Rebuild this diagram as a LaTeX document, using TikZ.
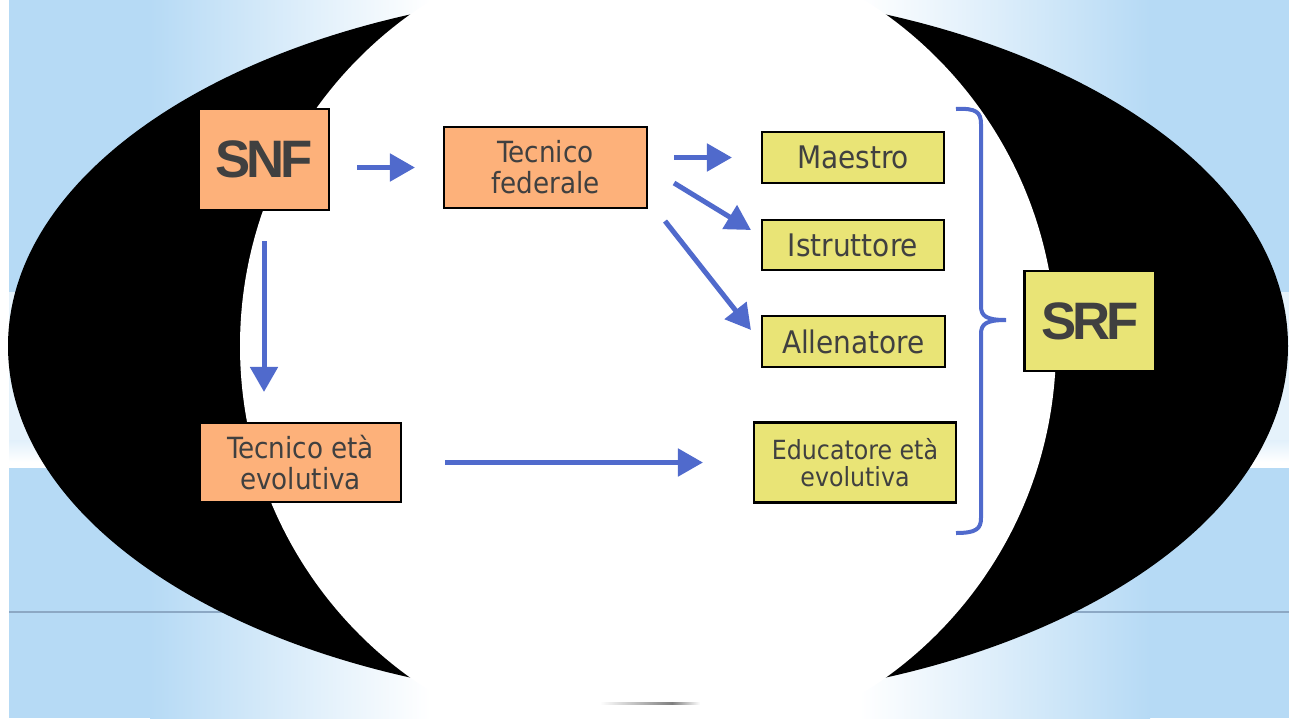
\documentclass[tikz,border=0pt]{standalone}
\usepackage{fontspec}
\setmainfont{DejaVu Sans}
\newfontfamily\labfont{DejaVu Sans Condensed}
\newfontfamily\bigfont{Liberation Sans}
\usetikzlibrary{arrows.meta,calc}
\definecolor{bgblue}{RGB}{182,218,245}
\definecolor{boxorange}{RGB}{253,177,122}
\definecolor{boxyellow}{RGB}{233,228,118}
\definecolor{flowblue}{RGB}{80,106,204}
\definecolor{txtgray}{RGB}{64,64,64}
\definecolor{linegray}{RGB}{140,168,196}
\tikzset{
  box/.style={draw=black, line width=1.2pt, inner sep=0pt, align=center, text=txtgray},
  orangebox/.style={box, fill=boxorange},
  yellowbox/.style={box, fill=boxyellow},
  flow/.style={draw=flowblue, line width=0.1cm, -{Triangle[length=0.5cm,width=0.54cm]}},
  bracestyle/.style={draw=flowblue, line width=0.08cm},
  labA/.style={font=\labfont\fontsize{17.7}{18}\selectfont},
  labB/.style={font=\labfont\fontsize{16.6}{17.6}\selectfont},
  labC/.style={font=\labfont\fontsize{15}{15.4}\selectfont},
  big/.style={font=\bigfont\bfseries\fontsize{30}{31}\selectfont}
}
\begin{document}
\begin{tikzpicture}[x=0.02cm,y=-0.02cm]
\useasboundingbox (0,0) rectangle (1289,718);
\begin{scope}
\clip (0,0) rectangle (1289,718);
% background
\fill[white] (0,0) rectangle (1289,718);
\fill[bgblue] (9,0) rectangle (150,718);
\shade[left color=bgblue, right color=white] (150,0) rectangle (430,718);
\shade[left color=white, right color=bgblue] (860,0) rectangle (1150,718);
\fill[bgblue] (1150,0) rectangle (1289,718);
\fill[white, opacity=0.65] (9,292) rectangle (1289,440);
\shade[top color=white!60!bgblue, bottom color=white] (9,440) rectangle (1289,462);
\fill[white] (9,462) rectangle (1289,468);
\draw[linegray, line width=1.5pt] (9,612) -- (1289,612);
% lens shapes
\fill[black] (648,346) ellipse [x radius=640, y radius=357];
\fill[white] (648,346) circle [radius=408];
\shade[left color=white, right color=gray] (600,702) rectangle (672,704);
\shade[left color=gray, right color=white] (672,702) rectangle (700,704);
\end{scope}
% nodes
\node[orangebox, minimum width=2.6cm, minimum height=2.02cm, big] (snf) at (264,159.5) {S\kern-0.085em N\kern-0.085em F};
\node[orangebox, minimum width=4.06cm, minimum height=1.62cm, labB] (tf) at (545.5,167.5) {Tecnico\\federale};
\node[yellowbox, minimum width=3.64cm, minimum height=1.02cm, labA] (maestro) at (853,157.5) {Maestro};
\node[yellowbox, minimum width=3.64cm, minimum height=1.0cm, labA] (istr) at (853,245) {Istruttore};
\node[yellowbox, minimum width=3.66cm, minimum height=1.02cm, labA] (all) at (853.5,341.5) {Allenatore};
\node[yellowbox, minimum width=4.04cm, minimum height=1.6cm, labC] (edu) at (855,462.5) {Educatore età\\evolutiva};
\node[orangebox, minimum width=4.02cm, minimum height=1.58cm, labB] (tee) at (300.5,462.5) {Tecnico età\\evolutiva};
\node[yellowbox, minimum width=2.62cm, minimum height=2.0cm, big] (srf) at (1090,321) {S\kern-0.085em R\kern-0.085em F};
% connectors
\draw[flow, shorten <=0.54cm, shorten >=0.56cm] (snf.east |- tf.west) -- (tf.west);
\draw[flow, shorten <=0.52cm, shorten >=0.58cm] (tf.east |- maestro.west) -- (maestro.west);
\draw[flow] ($(tf.east)+(26,15.5)$) -- ($(istr.west)+(-10,-15)$);
\draw[flow] ($(tf.south east)+(17,12)$) -- ($(all.west)+(-10,-11.5)$);
\draw[flow, shorten <=0.6cm, shorten >=0.6cm] (snf.south) -- (snf.south |- tee.north);
\draw[flow, shorten <=0.86cm, shorten >=1.0cm] (tee.east) -- (edu.west);
% brace
\coordinate (btop) at (956,109);
\coordinate (btip) at (1006,320);
\coordinate (bbot) at (956,533);
\draw[bracestyle] (btop) .. controls (976,108) and (981,112) .. (981,124) -- (981,306)
  .. controls (981,316) and (986,320) .. (btip)
  .. controls (986,320) and (981,324) .. (981,334) -- (981,518)
  .. controls (981,529) and (976,533) .. (bbot);
\end{tikzpicture}
\end{document}
